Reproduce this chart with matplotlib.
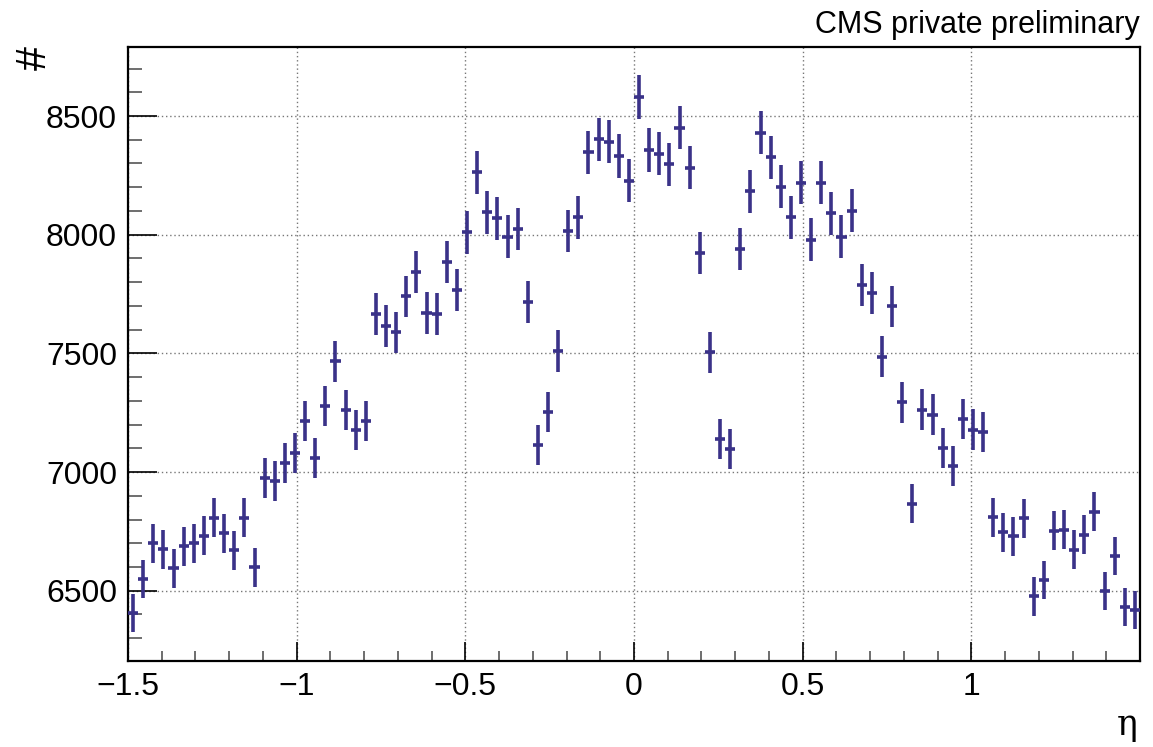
import numpy as np
import matplotlib
matplotlib.use("Agg")
import matplotlib.pyplot as plt
from matplotlib.ticker import MultipleLocator, FixedLocator

# ---- data ----
eta_low, eta_high, n_bins = -1.5, 1.5, 100
counts = [
    6405, 6549, 6700, 6674, 6594, 6688, 6700, 6732, 6808, 6742,
    6671, 6808, 6599, 6976, 6963, 7039, 7079, 7216, 7060, 7278,
    7467, 7261, 7177, 7216, 7665, 7615, 7589, 7740, 7842, 7669,
    7666, 7886, 7767, 8010, 8263, 8094, 8069, 7992, 8024, 7717,
    7114, 7252, 7510, 8016, 8073, 8347, 8402, 8392, 8332, 8228,
    8579, 8357, 8342, 8297, 8451, 8282, 7924, 7504, 7140, 7096,
    7940, 8183, 8430, 8326, 8202, 8073, 8219, 7979, 8219, 8090,
    7992, 8101, 7788, 7753, 7486, 7698, 7294, 6867, 7263, 7242,
    7103, 7027, 7223, 7179, 7170, 6810, 6747, 6730, 6806, 6476,
    6544, 6753, 6757, 6673, 6735, 6833, 6500, 6646, 6431, 6420,
]
x_ticklabels = ["\u22121.5", "\u22121", "\u22120.5", "0", "0.5", "1"]
x_ticks = [-1.5, -1.0, -0.5, 0.0, 0.5, 1.0]
y_ticks = [6500, 7000, 7500, 8000, 8500]

edges = np.linspace(eta_low, eta_high, n_bins + 1)
centers = 0.5 * (edges[:-1] + edges[1:])
half_w = 0.5 * (edges[1] - edges[0])
counts = np.array(counts, dtype=float)
errs = np.sqrt(counts)

plt.rcParams['font.family'] = ['Liberation Sans', 'DejaVu Sans']

W, H = 1153, 747
fig = plt.figure(figsize=(W / 100, H / 100), dpi=100)
ax = fig.add_axes([128 / W, (H - 660.5) / H, (1140 - 128) / W, (660.5 - 46.7) / H])

color = '#3a3288'
ax.errorbar(centers, counts, yerr=errs, xerr=half_w, fmt='none',
            ecolor=color, elinewidth=2.6, capsize=0, zorder=3)

ax.set_xlim(eta_low, eta_high)
ax.set_ylim(6206, 8792)

ax.xaxis.set_major_locator(FixedLocator(x_ticks))
ax.set_xticklabels(x_ticklabels)
ax.xaxis.set_minor_locator(MultipleLocator(0.1))
ax.yaxis.set_major_locator(FixedLocator(y_ticks))
ax.yaxis.set_minor_locator(MultipleLocator(100))

ax.tick_params(axis='both', which='both', direction='in', labelsize=23,
               top=False, right=False)
ax.tick_params(axis='y', which='major', length=21, width=1.2, pad=8)
ax.tick_params(axis='y', which='minor', length=10, width=1.2, color='#555555')
ax.tick_params(axis='x', which='major', length=14, width=1.2, pad=8)
ax.tick_params(axis='x', which='minor', length=7, width=1.2, color='#555555')

ax.grid(True, which='major', linestyle=(0, (1, 2)), color='#777777', linewidth=1.0)
for s in ax.spines.values():
    s.set_linewidth(1.6)

fig.text(1140 / W, 1 - 33 / H, "CMS private preliminary", ha='right',
         va='baseline', fontsize=22)
fig.text(35 / W, 1 - 46 / H, "#", rotation=90, ha='center', va='top',
         fontsize=31)
fig.text(1138 / W, 1 - 735 / H, "\u03b7", ha='right', va='baseline',
         fontsize=25, family=['DejaVu Serif', 'DejaVu Sans'])

fig.savefig("out.png", dpi=100)
